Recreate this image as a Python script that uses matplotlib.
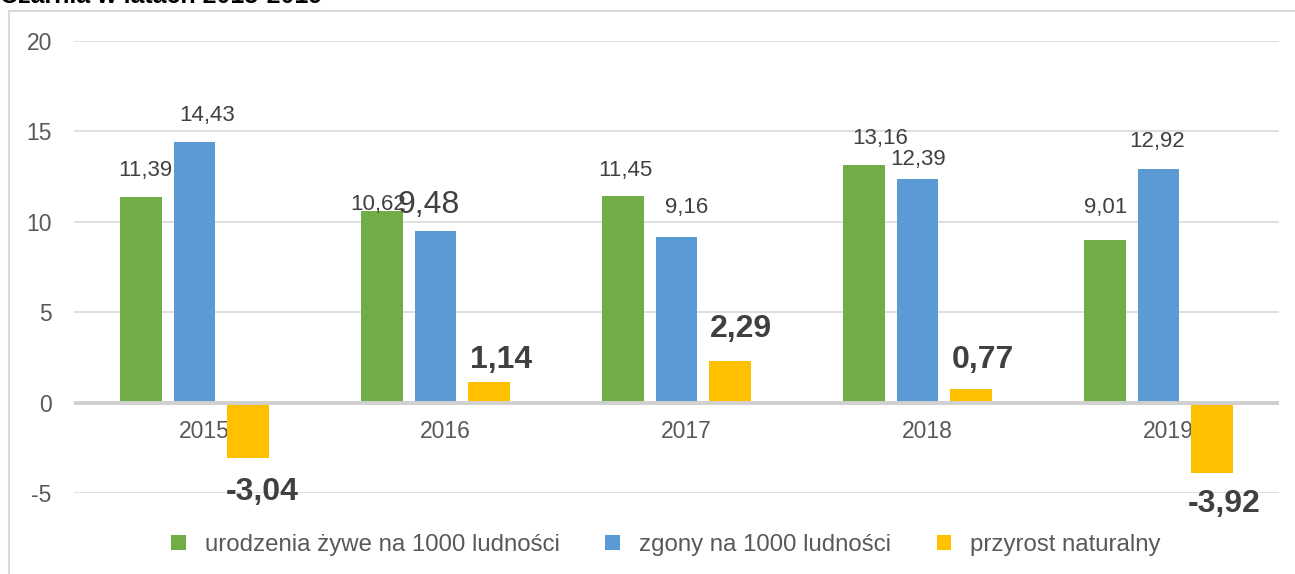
import matplotlib.pyplot as plt
from matplotlib.patches import Patch, Rectangle

plt.rcParams['font.family'] = ['Liberation Sans', 'DejaVu Sans']

years = ['2015', '2016', '2017', '2018', '2019']
births = [11.39, 10.62, 11.45, 13.16, 9.01]
deaths = [14.43, 9.48, 9.16, 12.39, 12.92]
growth = [-3.04, 1.14, 2.29, 0.77, -3.92]
series_names = ['urodzenia żywe na 1000 ludności', 'zgony na 1000 ludności', 'przyrost naturalny']
colors = ['#70AD47', '#5B9BD5', '#FFC000']

# label offsets in pixels (dx, dy) from the bar end
births_off = [(4, 26), (-4, 6), (2, 25), (16, 26), (1, 32)]
deaths_off = [(13, 26), (-7, 26), (10, 29), (1, 19), (-1, 28)]
growth_off = [(14, -34), (12, 22), (11, 32), (12, 29), (12, -31)]
deaths_big = [False, True, False, False, False]

W, H = 1295, 574
fig = plt.figure(figsize=(W / 100, H / 100), dpi=100)

# outer frame of the chart
fig.patches.append(Rectangle((9 / W, -0.1), 1.2, 1 - 11 / H + 0.1, transform=fig.transFigure,
                             fill=False, edgecolor='#D9D9D9', linewidth=1.5))
fig.text(0, 1 + 4 / H, 'Czarnia w latach 2015-2019', fontsize=18, fontweight='bold',
         va='center', ha='left', color='black')

ax = fig.add_axes([74 / W, (H - 493) / H, 1205 / W, (493 - 41) / H])
ax.set_xlim(-0.5, len(years) - 0.5)
ax.set_ylim(-5, 20)
ax.set_yticks([-5, 0, 5, 10, 15, 20])
ax.set_yticklabels(['-5', '0', '5', '10', '15', '20'])
ax.tick_params(axis='y', length=0, pad=16, labelsize=16.5, labelcolor='#595959')
ax.set_xticks([])
for s in ax.spines.values():
    s.set_visible(False)
for v in [-5, 5, 10, 15, 20]:
    ax.axhline(v, color='#D9D9D9', linewidth=1.2, zorder=0)
ax.axhline(0, color='#D0D0D0', linewidth=2.8, zorder=3)

step = 0.222
bw = 0.174
xs = list(range(len(years)))
for k, (vals, offs) in enumerate([(births, births_off), (deaths, deaths_off), (growth, growth_off)]):
    pos = [x + (k - 1) * step for x in xs]
    ax.bar(pos, vals, width=bw, color=colors[k], zorder=2)
    for i, v in enumerate(vals):
        txt = f'{v:.2f}'.replace('.', ',')
        if k == 2:
            kw = dict(fontsize=23, fontweight='bold', color='#404040')
        elif k == 1 and deaths_big[i]:
            kw = dict(fontsize=23, color='#404040')
        else:
            kw = dict(fontsize=16, color='#404040')
        ax.annotate(txt, (pos[i], v), xytext=offs[i], textcoords='offset pixels',
                    ha='center', va='center', zorder=5, **kw)

for i, y in enumerate(years):
    ax.annotate(y, (xs[i], 0), xytext=(10, -29), textcoords='offset pixels',
                ha='center', va='center', fontsize=16.5, color='#595959', zorder=1)

handles = [Patch(facecolor=c, label=n) for c, n in zip(colors, series_names)]
fig.legend(handles=handles, loc='center', bbox_to_anchor=(666 / W, 1 - 545 / H), ncol=3,
           frameon=False, fontsize=17.3, labelcolor='#595959', handlelength=0.6,
           handleheight=0.6, handletextpad=0.8, columnspacing=1.9)

fig.savefig('out.png', dpi=100)
